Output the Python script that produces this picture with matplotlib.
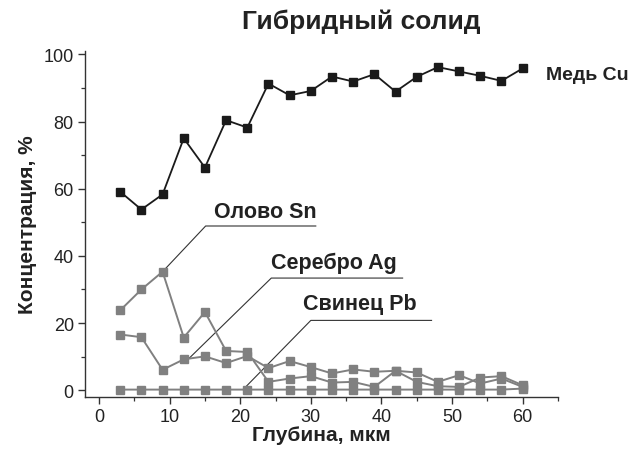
import matplotlib
matplotlib.use("Agg")
import matplotlib.pyplot as plt
from matplotlib.ticker import MultipleLocator

plt.rcParams['font.family'] = ['Liberation Sans', 'DejaVu Sans']

depth = [3, 6, 9, 12, 15, 18, 21, 24, 27, 30, 33, 36, 39, 42, 45, 48, 51, 54, 57, 60]
cu = [59.1, 53.8, 58.3, 75.0, 66.3, 80.4, 78.2, 91.3, 87.8, 89.1,
      93.4, 91.9, 94.1, 88.9, 93.3, 96.2, 94.9, 93.6, 92.1, 95.8]
sn = [23.8, 30.0, 35.3, 15.7, 23.3, 11.7, 11.4, 2.5, 3.5, 4.2,
      2.3, 2.5, 1.0, 5.8, 2.5, 1.2, 1.0, 3.8, 4.2, 1.5]
ag = [16.6, 15.8, 6.1, 9.2, 10.1, 8.1, 10.2, 6.6, 8.7, 6.9,
      5.0, 6.2, 5.5, 5.8, 5.3, 2.5, 4.5, 2.0, 3.5, 1.0]
pb = [0.2, 0.2, 0.2, 0.2, 0.2, 0.2, 0.2, 0.2, 0.2, 0.2,
      0.2, 0.2, 0.2, 0.2, 0.2, 0.2, 0.2, 0.2, 0.2, 0.5]

title = "Гибридный солид"
xlabel = "Глубина, мкм"
ylabel = "Концентрация, %"

# label annotations: text, text position, leader (tip, bend, end of underline)
labels = ["Олово Sn", "Серебро Ag", "Свинец Pb"]
label_text_xy = [(23.5, 53.3), (33.2, 38.2), (37.0, 25.9)]
leader_tip = [(9.0, 35.3), (12.8, 9.6), (20.4, 0.2)]
leader_bend = [(15.1, 48.9), (24.4, 33.4), (30.0, 20.8)]
leader_end = [(30.7, 48.9), (43.0, 33.4), (47.1, 20.8)]

fig = plt.figure(figsize=(6.29, 4.52), dpi=100)
ax = fig.add_axes([0.135, 0.1195, 0.752, 0.7655])

gray = '#808080'
dark = '#1a1a1a'
ax.plot(depth, pb, color=gray, lw=1.4, marker='s', ms=5.3, mec=gray, mfc=gray, zorder=3)
ax.plot(depth, ag, color=gray, lw=1.4, marker='s', ms=5.3, mec=gray, mfc=gray, zorder=3)
ax.plot(depth, sn, color=gray, lw=1.4, marker='s', ms=5.3, mec=gray, mfc=gray, zorder=3)
ax.plot(depth, cu, color=dark, lw=1.3, marker='s', ms=5.3, mec=dark, mfc=dark, zorder=4)

for t, txy, tip, bend, end in zip(labels, label_text_xy, leader_tip, leader_bend, leader_end):
    ax.plot([tip[0], bend[0], end[0]], [tip[1], bend[1], end[1]],
            color='#333333', lw=0.8, zorder=2)
    ax.text(txy[0], txy[1], t, ha='center', va='center', fontsize=15.5,
            fontweight='bold', color='#222222')

ax.text(63.3, 94.0, "Медь Cu", ha='left', va='center', fontsize=14,
        fontweight='bold', color='#222222', clip_on=False)

ax.set_xlim(-2, 65)
ax.set_ylim(-2, 101)
ax.xaxis.set_major_locator(MultipleLocator(10))
ax.xaxis.set_minor_locator(MultipleLocator(5))
ax.yaxis.set_major_locator(MultipleLocator(20))
ax.yaxis.set_minor_locator(MultipleLocator(10))
ax.set_xticks([0, 10, 20, 30, 40, 50, 60])
ax.set_yticks([0, 20, 40, 60, 80, 100])

for s in ['top', 'right']:
    ax.spines[s].set_visible(False)
for s in ['left', 'bottom']:
    ax.spines[s].set_color('#333333')
    ax.spines[s].set_linewidth(1.0)

ax.tick_params(which='major', direction='out', length=5, width=1.0,
               color='#333333', labelsize=13, labelcolor='#222222', pad=3)
ax.tick_params(which='minor', direction='out', length=3, width=0.9, color='#333333')

ax.set_xlabel(xlabel, fontsize=15, fontweight='bold', color='#222222', labelpad=0)
ax.set_ylabel(ylabel, fontsize=15, fontweight='bold', color='#222222', labelpad=5)
fig.text(0.575, 0.952, title, ha='center', va='center', fontsize=19,
         fontweight='bold', color='#222222')

fig.savefig("out.png", dpi=100)
